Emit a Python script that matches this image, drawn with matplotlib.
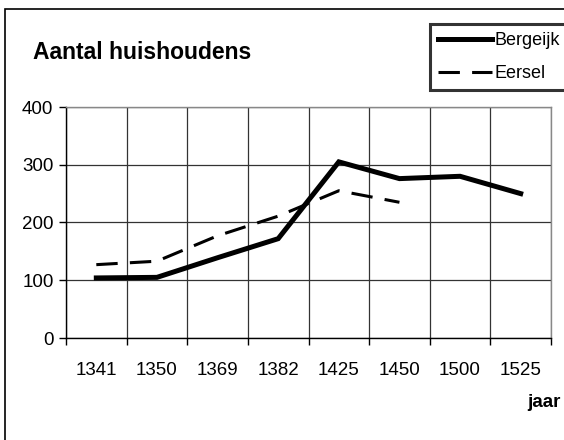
import numpy as np
import matplotlib.pyplot as plt
from matplotlib.patches import Rectangle

plt.rcParams['font.family'] = ['Liberation Sans', 'DejaVu Sans']

# ---------------      Datos       -------------------------
jaren = ['1341', '1350', '1369', '1382', '1425', '1450', '1500', '1525']
bergeijk = [104, 105, 139, 172, 305, 276, 280, 250]
eersel = [127, 133, 177, 211, 255, 235]
y_ticks = [0, 100, 200, 300, 400]

# ---------------      Grafica       -------------------------
fig = plt.figure(figsize=(5.64, 4.4), dpi=100)
ax = fig.add_axes([66 / 564, 1 - 338 / 440, 485 / 564, 231 / 440])

x_b = np.arange(len(bergeijk))
x_e = np.arange(len(eersel))

ax.plot(x_b, bergeijk, color='black', linewidth=3.6, solid_joinstyle='miter',
        label='Bergeijk', zorder=3)
ax.plot(x_e, eersel, color='black', linewidth=2.2, dashes=(7, 4),
        label='Eersel', zorder=3)

ax.set_xlim(-0.5, len(jaren) - 0.5)
ax.set_ylim(0, 400)

# ticks en las fronteras, etiquetas en el centro
ax.set_xticks(np.arange(len(jaren) + 1) - 0.5)
ax.set_xticklabels([])
ax.set_xticks(np.arange(len(jaren)), minor=True)
ax.set_xticklabels(jaren, minor=True)
ax.tick_params(axis='x', which='minor', length=0, pad=17.5, labelsize=13.5)
ax.tick_params(axis='x', which='major', length=5, width=1, direction='out')

ax.set_yticks(y_ticks)
ax.tick_params(axis='y', length=5, width=1, pad=4, labelsize=13.5)

ax.grid(True, which='major', color='#333333', linewidth=0.9)
ax.set_axisbelow(True)

for side in ['top', 'right']:
    ax.spines[side].set_color('#888888')
    ax.spines[side].set_linewidth(1)
for side in ['left', 'bottom']:
    ax.spines[side].set_color('black')
    ax.spines[side].set_linewidth(1)

fig.text(33 / 564, 1 - 59 / 440, 'Aantal huishoudens', fontsize=16.5,
         fontweight='bold', va='baseline', ha='left')
fig.text(561 / 564, 1 - 407 / 440, 'jaar', fontsize=13.5,
         fontweight='bold', va='baseline', ha='right')

leg = fig.legend(loc='upper left', bbox_to_anchor=(430 / 564, 1 - 24 / 440),
                 frameon=True, fancybox=False, fontsize=13, handlelength=3.0,
                 handletextpad=0.12, borderpad=0.45, borderaxespad=0,
                 labelspacing=0.9, edgecolor='black')
leg.get_frame().set_linewidth(2.2)

# marco exterior
fig.patches.append(Rectangle((5 / 564, -0.1), 1.2, 1 - 9 / 440 + 0.1,
                             transform=fig.transFigure, fill=False,
                             edgecolor='black', linewidth=1.2))

fig.savefig('out.png', dpi=100)
